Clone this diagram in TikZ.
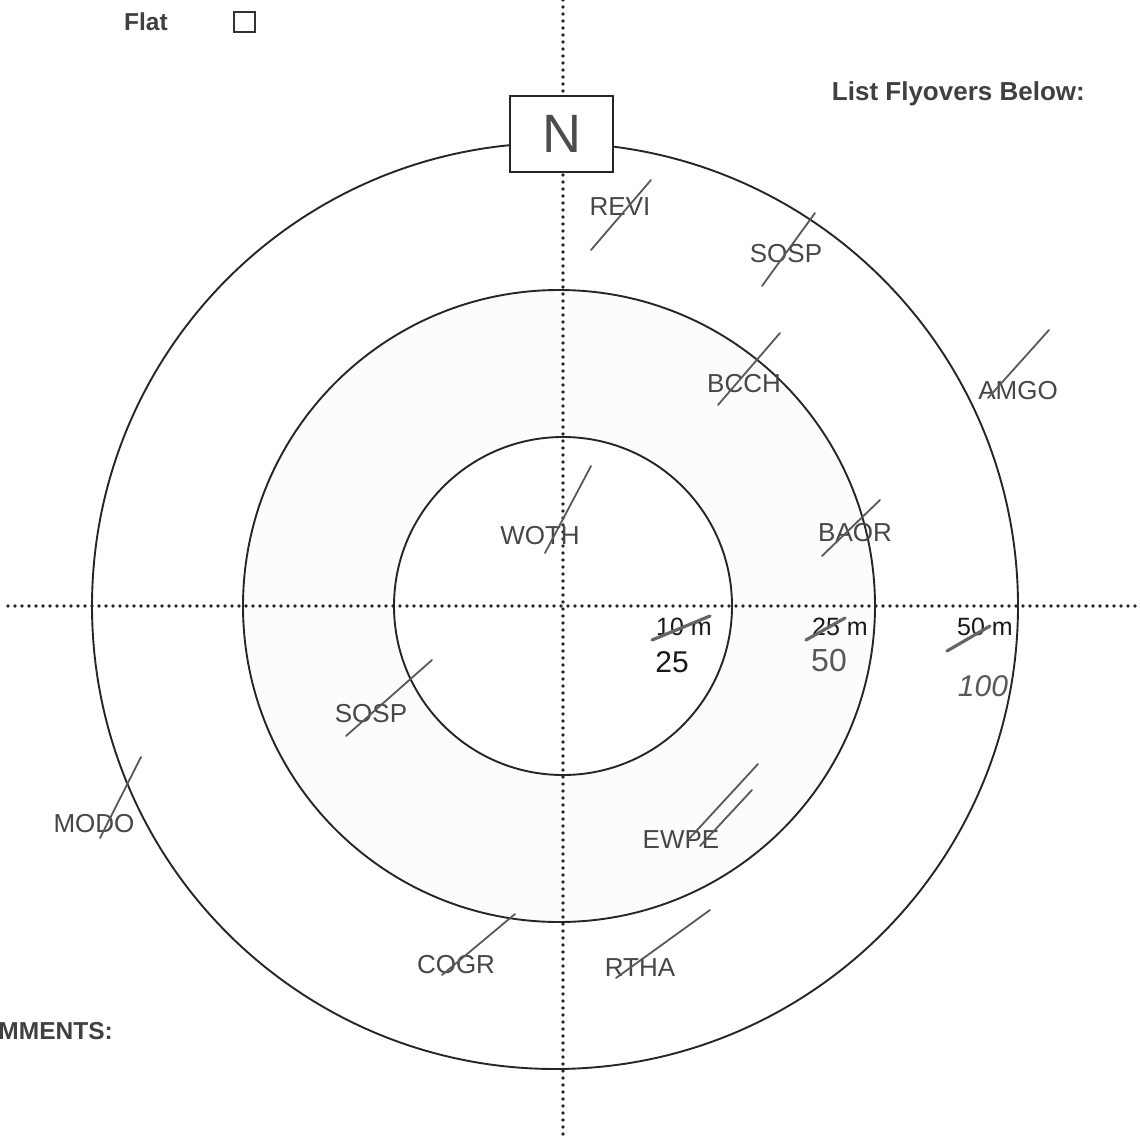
\documentclass[tikz,border=0pt]{standalone}
\usepackage{fontspec}
\setmainfont{Liberation Sans}
\begin{document}
\begin{tikzpicture}[x=1pt,y=-1pt,
  ring/.style={draw=black!85,line width=1.9},
  axis/.style={draw=black!85,line width=3.6,dash pattern=on 0pt off 7pt,line cap=round},
  head/.style={font=\fontsize{24.5}{28}\selectfont\bfseries,text=black!75,inner sep=0},
  dist/.style={font=\fontsize{25}{28}\selectfont,text=black!90,inner sep=0},
  hand/.style={font=\fontsize{26}{30}\selectfont,text=black!72,inner sep=0},
  handnum/.style={font=\fontsize{30}{32}\selectfont\itshape,text=black!65,inner sep=0},
  tick/.style={draw=black!65,line width=1.8,line cap=round},
  strike/.style={draw=black!60,line width=3.2,line cap=round}]
\useasboundingbox (0,0) rectangle (1140,1137);
\fill[white] (0,0) rectangle (1140,1137);
% rings
\fill[gray!2,even odd rule] (559,606) circle[radius=316] (563,606) circle[radius=169];
\draw[ring] (555,606) circle[radius=463];
\draw[ring] (559,606) circle[radius=316];
\draw[ring] (563,606) circle[radius=169];
% axes
\coordinate (vt) at (563,0);
\coordinate (vb) at (563,1137);
\coordinate (hl) at (8,606);
\coordinate (hr) at (1140,606);
\draw[axis] (vt) -- (vb);
\draw[axis] (hl) -- (hr);
% north box
\node[draw=black!85,line width=2.2,fill=white,minimum width=103,minimum height=76,inner sep=0]
  (north) at (561.5,134) {};
\node[font=\fontsize{54}{56}\selectfont,text=black!70] (nlabel) at (north) {N};
% headings
\node[head,anchor=west] (flat) at (124,22) {Flat};
\node[draw=black!80,line width=2,minimum width=21,minimum height=20,inner sep=0] (flatbox) at (244,22) {};
\node[head,anchor=east,font=\fontsize{26}{28}\selectfont\bfseries] (list) at (1085,94) {List Flyovers Below:};
\node[head,anchor=east] (comments) at (113,1031) {MMENTS:};
% distance labels
\node[dist,anchor=east] (d10) at (712,627) {10 m};
\node[dist,anchor=east] (d25) at (868,627) {25 m};
\node[dist,anchor=east] (d50) at (1013,627) {50 m};
\draw[strike] (652,640) -- (710,616);
\draw[strike] (806,640) -- (845,618);
\draw[strike] (947,651) -- (990,626);
\node[handnum,text=black!90,font=\fontsize{30}{32}\selectfont] (n25) at (672,662) {25};
\node[handnum,font=\fontsize{32}{34}\selectfont] (n50) at (829,660) {50};
\node[handnum] (n100) at (983,686) {100};
% species
\node[hand] (revi) at (620,207) {REVI};
\draw[tick] (591,250) -- (651,180);
\node[hand] (sosp1) at (786,254) {SOSP};
\draw[tick] (762,286) -- (815,213);
\node[hand] (bcch) at (744,384) {BCCH};
\draw[tick] (718,405) -- (780,333);
\node[hand] (amgo) at (1018,391) {AMGO};
\draw[tick] (988,398) -- (1049,330);
\node[hand] (woth) at (540,536) {WOTH};
\draw[tick] (545,553) -- (591,466);
\node[hand] (baor) at (855,533) {BAOR};
\draw[tick] (822,556) -- (880,500);
\node[hand] (sosp2) at (371,714) {SOSP};
\draw[tick] (346,736) -- (432,660);
\node[hand] (modo) at (94,824) {MODO};
\draw[tick] (100,838) -- (141,757);
\node[hand] (ewpe) at (681,840) {EWPE};
\draw[tick] (688,840) -- (758,764);
\draw[tick] (700,846) -- (752,790);
\node[hand] (cogr) at (456,965) {COGR};
\draw[tick] (442,975) -- (515,914);
\node[hand] (rtha) at (640,968) {RTHA};
\draw[tick] (616,978) -- (710,910);
\end{tikzpicture}
\end{document}
